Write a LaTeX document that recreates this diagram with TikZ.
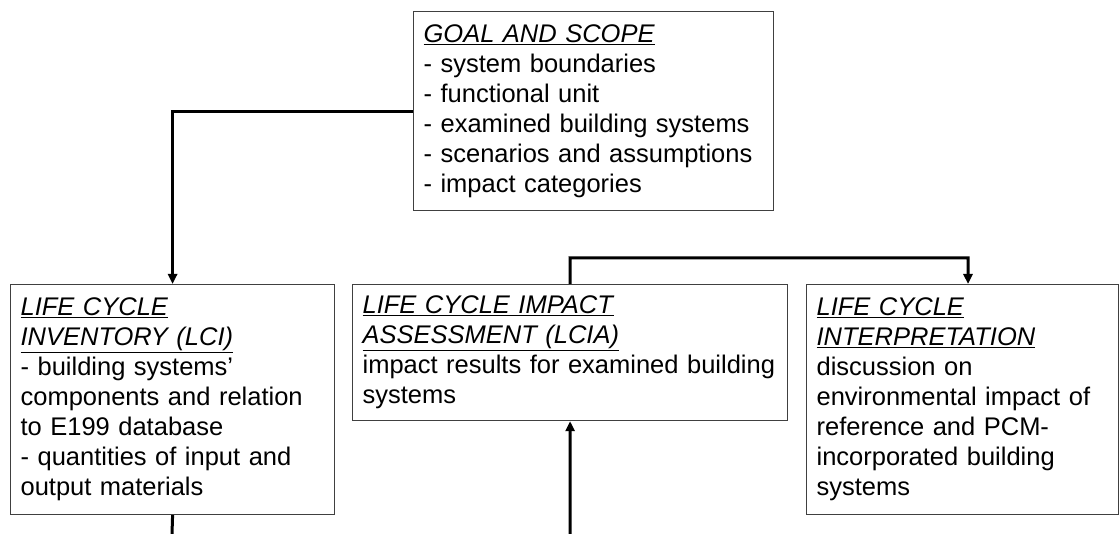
\documentclass[tikz,border=0pt]{standalone}
\usepackage{fontspec}
\setmainfont{Liberation Sans}
\usetikzlibrary{positioning,calc,arrows.meta}
\def\head#1{\underline{\textit{#1}}}

\begin{document}
\begin{tikzpicture}
    	[x=1pt, y=-1pt,
    		box/.style={
    		  rectangle,
    		  draw=black!75,
    		  line width=1.2pt,
    		  anchor=north west,
    		  align=left,
    		  inner xsep=10pt,
    		  inner ysep=4pt,
    		  font=\fontsize{25.5}{30}\selectfont
    		},
    		flow/.style={
    		  line width=3pt,
    		  -{Triangle[length=10pt,width=9pt]}
    		},
    		link/.style={
    		  line width=3pt
    		}
    	]
    	\useasboundingbox (0,0) rectangle (1120,534);

    	\draw (413,11) node[box, text width=340pt, minimum height=199pt] (goal) {\head{GOAL AND SCOPE}\\- system boundaries\\- functional unit\\- examined building systems\\- scenarios and assumptions\\- impact categories};

    	\draw (10,284) node[box, text width=304pt, minimum height=230pt] (lci) {\head{LIFE CYCLE}\\\head{INVENTORY (LCI)}\\- building systems'\\components and relation\\to E199 database\\- quantities of input and\\output materials};

    	\draw (352,284) node[box, text width=415pt, minimum height=136pt] (lcia) {\head{LIFE CYCLE IMPACT}\\\head{ASSESSMENT (LCIA)}\\impact results for examined building\\systems};

    	\draw (806,284) node[box, text width=292pt, minimum height=230pt] (interp) {\head{LIFE CYCLE}\\\head{INTERPRETATION}\\discussion on\\environmental impact of\\reference and PCM-\\incorporated building\\systems};

    	\coordinate (interpin) at ([xshift=162pt]interp.north west);
    	\coordinate (lciout) at (172,534);
    	\coordinate (lciain) at (570,534);
    	\coordinate (loop) at (570,258);

    	\draw[flow] (goal.west) -| (lci.north);
    	\draw[flow] (lcia.north) -- (loop) -| (interpin);
    	\draw[link] (lci.south) -- (lciout);
    	\draw[flow] (lciain) -- (lcia.south);
    \end{tikzpicture}
\end{document}
